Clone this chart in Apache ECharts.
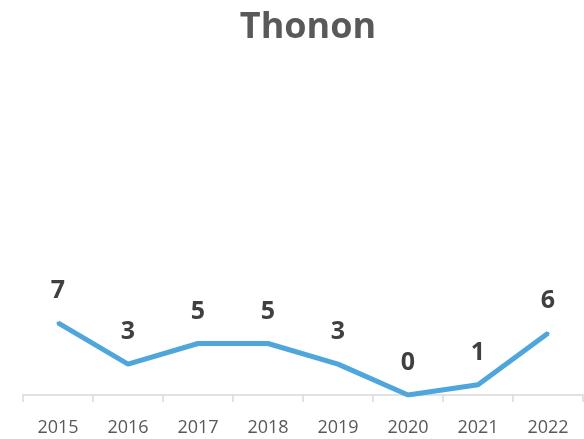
<!DOCTYPE html>
<html>
<head>
<meta charset="utf-8">
<script src="https://cdn.jsdelivr.net/npm/echarts@6/dist/echarts.min.js"></script>
<style>
    html, body { margin: 0; padding: 0; background: #fff; }
    #chart { width: 584px; height: 439px; }
</style>
</head>
<body>
<div id="chart"></div>
<script>
// années et valeurs
const years = ["2015", "2016", "2017", "2018", "2019", "2020", "2021", "2022"];
const values = [7, 3, 5, 5, 3, 0, 1, 6];

let chart = echarts.init(document.getElementById("chart"));
let option = {
    title: {
        text: "Thonon",
        left: 303,
        textAlign: "center",
        top: 5,
        textStyle: {
            fontFamily: "Open Sans",
            fontSize: 36,
            fontWeight: "bold",
            color: "#595959"
        }
    },
    grid: {
        left: 23,
        right: 1,
        top: 86,
        bottom: 44
    },
    xAxis: {
        type: "category",
        data: years,
        boundaryGap: true,
        axisLine: { lineStyle: { color: "#d9d9d9", width: 1.5 } },
        axisTick: { show: true, length: 7, lineStyle: { color: "#d9d9d9", width: 1.5 } },
        axisLabel: {
            margin: 24,
            fontFamily: "Open Sans",
            fontSize: 18,
            color: "#595959"
        }
    },
    yAxis: {
        type: "value",
        min: 0,
        max: 30,
        show: false
    },
    series: [{
        type: "line",
        data: values,
        symbol: "circle",
        symbolSize: 3,
        showSymbol: true,
        itemStyle: { color: "#4ea6dc" },
        lineStyle: { color: "#4ea6dc", width: 5 },
        label: {
            show: true,
            position: "top",
            distance: 18,
            fontFamily: "Open Sans",
            fontSize: 25,
            fontWeight: "bold",
            color: "#404040"
        }
    }]
};
chart.setOption(option);
</script>
</body>
</html>
